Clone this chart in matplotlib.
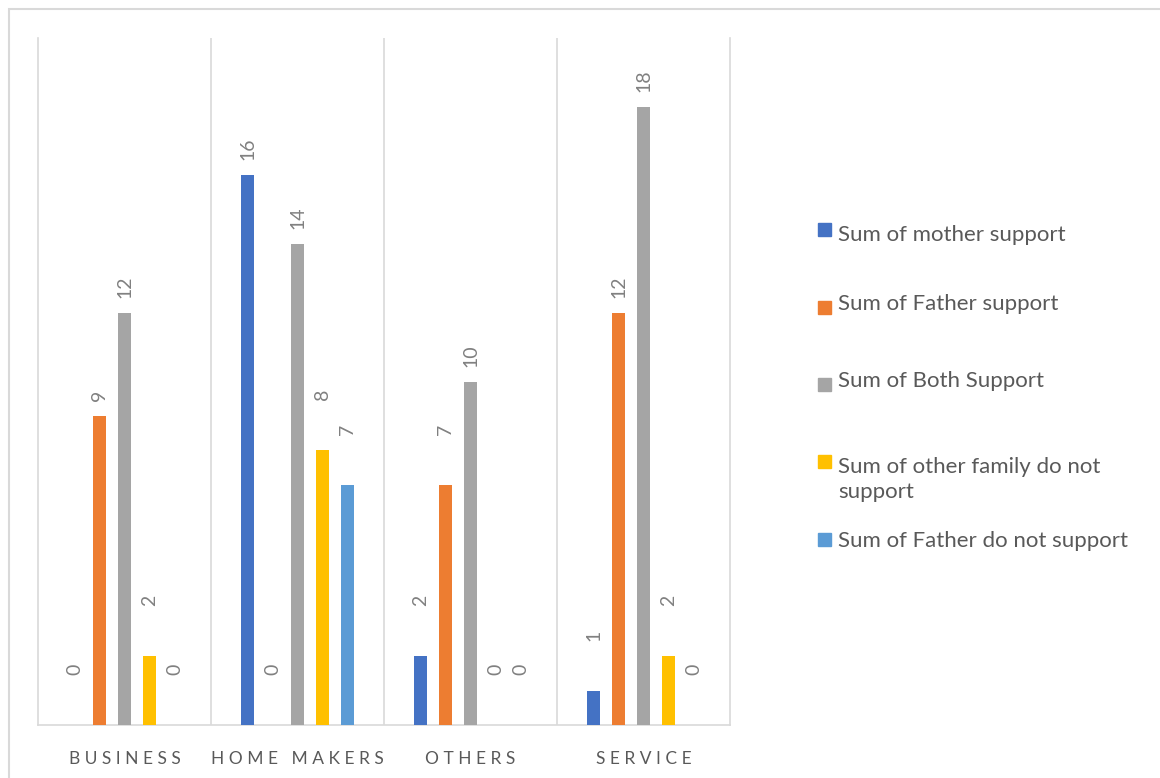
import matplotlib.pyplot as plt
import numpy as np
from matplotlib.patches import Rectangle

# datos por ocupacion
categories = ['BUSINESS', 'HOME MAKERS', 'OTHERS', 'SERVICE']
series_names = ['Sum of mother support', 'Sum of Father support', 'Sum of Both Support',
                'Sum of other family do not\nsupport', 'Sum of Father do not support']
mother_support = [0, 16, 2, 1]
father_support = [9, 0, 7, 12]
both_support = [12, 14, 10, 18]
other_family_not = [2, 8, 0, 2]
father_not = [0, 7, 0, 0]

series = [mother_support, father_support, both_support, other_family_not, father_not]
colors = ['#4472C4', '#ED7D31', '#A5A5A5', '#FFC000', '#5B9BD5']

plt.rcParams['font.family'] = ['Lato', 'DejaVu Sans']

fig = plt.figure(figsize=(11.6, 7.78), dpi=100)
ax = fig.add_axes([38 / 1160, 1 - 725 / 778, 692 / 1160, 687 / 778])

x = np.arange(len(categories))
step = 0.1445
width = 0.078

for i, (vals, col) in enumerate(zip(series, colors)):
    pos = x + (i - 2) * step
    ax.bar(pos, vals, width=width, color=col, zorder=3)
    for p, v in zip(pos, vals):
        # etiquetas giradas encima de cada barra
        gap = 15 if v >= 9 else 50
        ax.annotate(str(v), (p, v), xytext=(0, gap), textcoords='offset pixels',
                    rotation=90, ha='center', va='bottom', fontsize=14, color='#808080')

ax.set_xlim(-0.5, 3.5)
ax.set_ylim(0, 20)
ax.set_yticks([])

# lineas verticales entre categorias
for b in np.arange(0.5, 3.5, 1):
    ax.axvline(b, color='#D9D9D9', lw=1.2, zorder=1)

ax.spines['top'].set_visible(False)
for s in ['left', 'right', 'bottom']:
    ax.spines[s].set_color('#D9D9D9')
    ax.spines[s].set_linewidth(1.2)

# letras separadas
spaced = ['   '.join(' '.join(w) for w in c.split()) for c in categories]
ax.set_xticks(x)
ax.set_xticklabels(spaced, fontsize=12.5, color='#595959')
ax.tick_params(axis='x', length=0, pad=19)

# leyenda a la derecha
legend_tops = [226, 295, 372, 458, 532]
box_tops = [223, 301, 378, 455, 533]
for name, col, ty, by in zip(series_names, colors, legend_tops, box_tops):
    fig.patches.append(Rectangle((818 / 1160, 1 - (by + 13) / 778), 13 / 1160, 13 / 778,
                                 transform=fig.transFigure, color=col))
    fig.text(838 / 1160, 1 - (ty - 1) / 778, name, fontsize=16, color='#595959',
             va='top', ha='left', linespacing=1.3)

# borde exterior
fig.patches.append(Rectangle((9 / 1160, -0.1), 1.2, 1.1 - 9 / 778, transform=fig.transFigure,
                             fill=False, edgecolor='#D9D9D9', lw=1.5))

fig.savefig('out.png', dpi=100)
